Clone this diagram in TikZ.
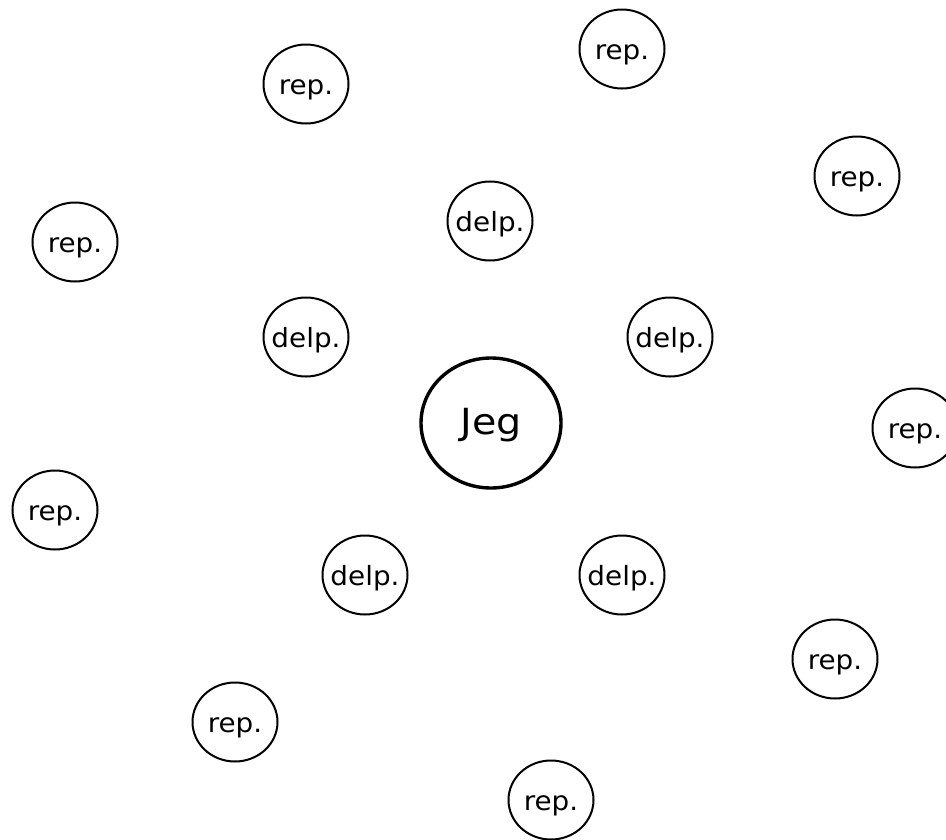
\documentclass[tikz,border=0pt]{standalone}
\usepackage{fontspec}
\setmainfont{DejaVu Sans}
\newfontfamily\jegfont[FakeStretch=1.1]{DejaVu Sans}
\newfontfamily\smallfont[FakeStretch=1.05]{DejaVu Sans}
\usetikzlibrary{shapes.geometric}
\tikzset{
  small/.style={ellipse, draw, line width=2pt, inner sep=0pt,
    minimum width=85pt, minimum height=79pt,
    text height=20pt, text depth=0pt,
    font=\smallfont\fontsize{26.5}{30}\selectfont},
  big/.style={ellipse, draw, line width=3.4pt, inner sep=0pt,
    minimum width=140pt, minimum height=130pt,
    text height=22pt, text depth=0pt,
    font=\jegfont\fontsize{36}{40}\selectfont}
}
\newcommand{\zt}[1]{\makebox[0pt]{#1}}
\begin{document}
\begin{tikzpicture}[x=1pt,y=-1pt]
\useasboundingbox[fill=white] (0,0) rectangle (946,839);
\node[big] (jeg) at (491,423) {\zt{Jeg}};
% delp.
\node[small] (d1) at (490,221) {\zt{delp.}};
\node[small] (d2) at (306,337) {\zt{delp.}};
\node[small] (d3) at (670,337) {\zt{delp.}};
\node[small] (d4) at (365,575) {\zt{delp.}};
\node[small] (d5) at (622,575) {\zt{delp.}};
% rep.
\node[small] (r1) at (622,49) {\zt{rep.}};
\node[small] (r2) at (306,84) {\zt{rep.}};
\node[small] (r3) at (857,176) {\zt{rep.}};
\node[small] (r4) at (75,242) {\zt{rep.}};
\node[small] (r5) at (915,428) {\zt{rep.}};
\node[small] (r6) at (55,510) {\zt{rep.}};
\node[small] (r7) at (835,659) {\zt{rep.}};
\node[small] (r8) at (235,722) {\zt{rep.}};
\node[small] (r9) at (551,800) {\zt{rep.}};
\end{tikzpicture}
\end{document}
